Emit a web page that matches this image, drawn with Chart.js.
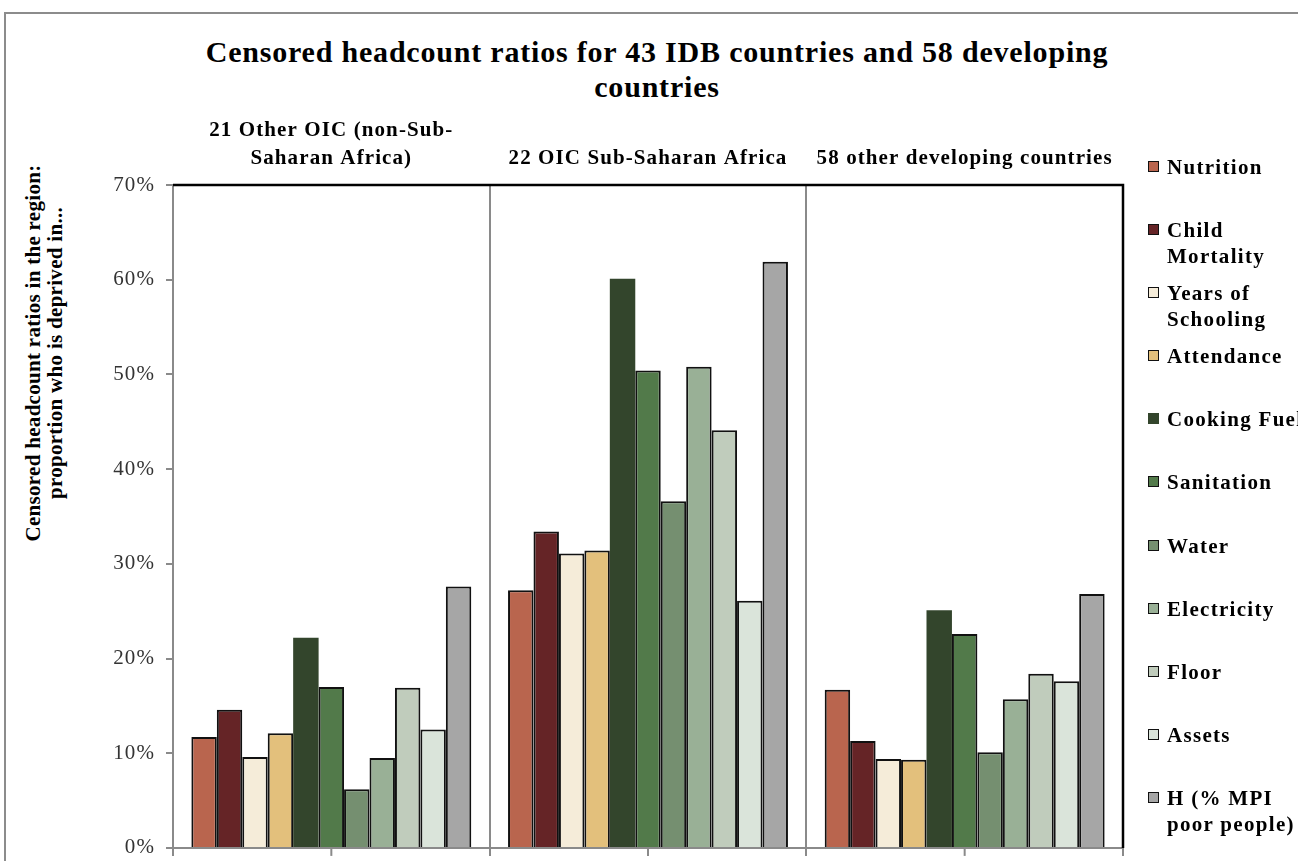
<!DOCTYPE html>
<html>
<head>
<meta charset="utf-8">
<script src="https://cdn.jsdelivr.net/npm/chart.js"></script>
<style>
    body { margin: 0; background: #fff; overflow: hidden; width: 1298px; height: 861px; position: relative; font-family: "Liberation Serif", "Times New Roman", serif; }
    .frame { position: absolute; left: 4px; top: 12px; width: 1400px; height: 900px; border: 2px solid #8c8c8c; }
    .chart-wrap { position: absolute; left: 0; top: 0; width: 1298px; height: 861px; }
    .title { position: absolute; left: 0; width: 1314px; top: 34px; text-align: center; font-weight: bold; font-size: 30px; letter-spacing: 0.8px; line-height: 35px; color: #000; }
    .y-title { position: absolute; left: 44px; top: 353px; width: 560px; transform: translate(-50%, -50%) rotate(-90deg); text-align: center; font-weight: bold; font-size: 21px; letter-spacing: 0.3px; line-height: 22px; color: #000; }
    .legend { position: absolute; left: 1148px; top: 154px; }
    .legend__item { position: relative; height: 63.1px; }
    .legend__box { position: absolute; left: 0; top: 7px; width: 9px; height: 9px; border: 1.5px solid #111; }
    .legend__text { position: absolute; left: 19px; top: 0; font-weight: bold; font-size: 21px; letter-spacing: 1.3px; line-height: 26px; white-space: pre; color: #000; }
</style>
</head>
<body>
<div class="frame"></div>
<div class="title" id="title"></div>
<div class="y-title" id="yTitle"></div>
<div class="chart-wrap"><canvas id="chart" width="1298" height="861"></canvas></div>
<div class="legend" id="legend"></div>

<script>
// Data

const titleLines = ["Censored headcount ratios for 43 IDB countries and 58 developing", "countries"];
const yTitleLines = ["Censored headcount ratios in the region:", "proportion who is deprived in..."];

const groups = [["21 Other OIC (non-Sub-", "Saharan Africa)"], "22 OIC Sub-Saharan Africa", "58 other developing countries"];

const seriesNames = ["Nutrition", "Child\nMortality", "Years of\nSchooling", "Attendance", "Cooking Fuel",
    "Sanitation", "Water", "Electricity", "Floor", "Assets", "H (% MPI\npoor people)"];

const nutrition = [11.7, 27.2, 16.7],
    childMortality = [14.6, 33.4, 11.3],
    yearsOfSchooling = [9.6, 31.1, 9.4],
    attendance = [12.1, 31.4, 9.3],
    cookingFuel = [22.2, 60.1, 25.1],
    sanitation = [17.0, 50.4, 22.6],
    water = [6.2, 36.6, 10.1],
    electricity = [9.5, 50.8, 15.7],
    floor = [16.9, 44.1, 18.4],
    assets = [12.5, 26.1, 17.6],
    headcount = [27.6, 61.9, 26.8];

const seriesValues = [nutrition, childMortality, yearsOfSchooling, attendance, cookingFuel,
    sanitation, water, electricity, floor, assets, headcount];

const yTicks = [0, 10, 20, 30, 40, 50, 60, 70];

// Styles

const seriesColors = ["#B9654E", "#652426", "#F5ECD9", "#E3C07C", "#33452C",
    "#527A4A", "#758F70", "#99B096", "#C0CCBC", "#DAE4DA", "#A6A6A6"];
const noBorder = ["Cooking Fuel"];

const axisGray = "#8a8a8a",
    serif = "'Liberation Serif', 'Times New Roman', serif",
    canvasLetterSpacing = "1.1px";

// Text outside the canvas

document.getElementById("title").innerHTML = titleLines.join("<br>");
document.getElementById("yTitle").innerHTML = yTitleLines.join("<br>");

const legendEl = document.getElementById("legend");
seriesNames.forEach((name, i) => {
    let item = document.createElement("div");
    item.className = "legend__item";
    item.innerHTML = '<span class="legend__box"></span><span class="legend__text"></span>';
    let box = item.querySelector(".legend__box");
    box.style.background = seriesColors[i];
    if (noBorder.includes(name)) box.style.borderColor = seriesColors[i];
    item.querySelector(".legend__text").textContent = name;
    legendEl.appendChild(item);
});

// Plugins

// wider serif look, closer to the Garamond of the original
const letterSpacing = {
    id: "letterSpacing",
    beforeUpdate(chart) { chart.ctx.letterSpacing = canvasLetterSpacing; },
    beforeDraw(chart) { chart.ctx.letterSpacing = canvasLetterSpacing; },
};

// mid-group tick marks and the black top / right frame
const frameLines = {
    id: "frameLines",
    afterDraw(chart) {
        const ctx = chart.ctx,
            area = chart.chartArea,
            x = chart.scales.x;

        ctx.save();
        ctx.strokeStyle = axisGray;
        ctx.lineWidth = 2;
        chart.data.labels.forEach((label, i) => {
            let px = x.getPixelForValue(i);
            ctx.beginPath();
            ctx.moveTo(px, area.bottom);
            ctx.lineTo(px, area.bottom + 8);
            ctx.stroke();
        });

        ctx.strokeStyle = "#000";
        ctx.lineWidth = 2.5;
        ctx.beginPath();
        ctx.moveTo(area.left, area.top);
        ctx.lineTo(area.right, area.top);
        ctx.lineTo(area.right, area.bottom);
        ctx.stroke();
        ctx.restore();
    }
};

// Chart

const chart = new Chart(document.getElementById("chart"), {
    type: "bar",
    data: {
        labels: groups,
        datasets: seriesNames.map((name, i) => ({
            label: name,
            data: seriesValues[i],
            backgroundColor: seriesColors[i],
            borderColor: "#111",
            borderWidth: noBorder.includes(name) ? 0 : 2,
            borderSkipped: "start",
            categoryPercentage: 0.884,
            barPercentage: 1,
        })),
    },
    options: {
        responsive: false,
        animation: false,
        layout: {
            padding: { left: 10, right: 175, top: 100, bottom: 0 },
        },
        plugins: {
            legend: { display: false },
            title: { display: false },
            tooltip: { enabled: false },
        },
        scales: {
            x: {
                z: 1,
                offset: true,
                grid: {
                    offset: true,
                    color: axisGray,
                    lineWidth: 2,
                    tickLength: 8,
                },
                border: { color: axisGray, width: 2 },
                ticks: { display: false },
                afterFit: scale => { scale.height = 13; },
            },
            x2: {
                type: "category",
                position: "top",
                offset: true,
                grid: { display: false, drawTicks: false },
                border: { display: false },
                ticks: {
                    autoSkip: false,
                    maxRotation: 0,
                    padding: 13,
                    color: "#000",
                    font: { family: serif, size: 21, weight: "bold", lineHeight: 1.3 },
                },
                afterFit: scale => { scale.height = 85; },
            },
            y: {
                min: 0,
                max: 70,
                afterBuildTicks: scale => { scale.ticks = yTicks.map(v => ({ value: v })); },
                grid: {
                    drawOnChartArea: false,
                    color: axisGray,
                    lineWidth: 2,
                    tickLength: 7,
                },
                border: { color: axisGray, width: 2 },
                ticks: {
                    padding: 11,
                    color: "#333",
                    // small line height keeps the "0%" label from padding the bottom
                    font: { family: serif, size: 21, lineHeight: 0.2 },
                    callback: value => value + "%",
                },
                afterFit: scale => { scale.width = 163; },
            },
        },
    },
    plugins: [letterSpacing, frameLines],
});
</script>
</body>
</html>
